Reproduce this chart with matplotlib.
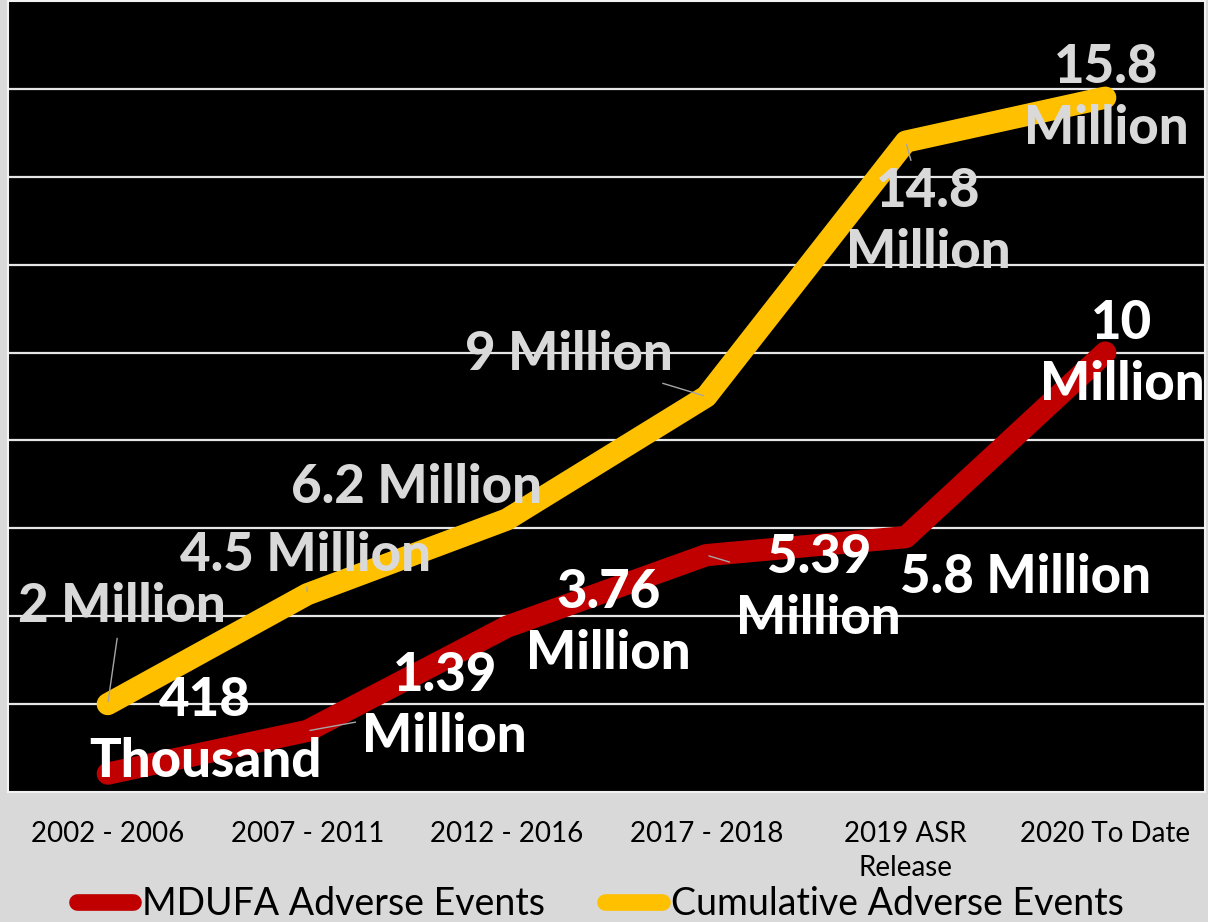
"""Adverse events line chart: MDUFA vs cumulative."""

import matplotlib
matplotlib.use('Agg')
import matplotlib.pyplot as plt
from matplotlib.lines import Line2D
import numpy as np

periods = ['2002 - 2006', '2007 - 2011', '2012 - 2016', '2017 - 2018',
           '2019 ASR\nRelease', '2020 To Date']

# values in millions
mdufa = [0.418, 1.39, 3.76, 5.39, 5.8, 10.0]
cumulative = [2.0, 4.5, 6.2, 9.0, 14.8, 15.8]

mdufa_labels = ['418\nThousand', '1.39\nMillion', '3.76\nMillion',
                '5.39\nMillion', '5.8 Million', '10\nMillion']
cumulative_labels = ['2 Million', '4.5 Million', '6.2 Million', '9 Million',
                     '14.8\nMillion', '15.8\nMillion']

# label offsets in points (dx, dy) and whether a leader line is drawn
mdufa_offsets = [(70, 31), (99, 18), (73, 3), (81, -24), (86, -29), (12, -1)]
mdufa_leaders = [False, True, False, True, False, False]
cumulative_offsets = [(10, 70), (-1, 28), (-65, 23), (-99, 30), (16, -58), (1, 0)]
cumulative_leaders = [True, True, False, True, True, False]

RED = '#c00000'
GOLD = '#ffc000'
BG = '#d9d9d9'
LABEL_GRAY = '#d9d9d9'

plt.rcParams['font.family'] = ['Lato', 'DejaVu Sans']

fig = plt.figure(figsize=(12.08, 9.22), dpi=100, facecolor=BG)
ax = fig.add_axes([8 / 1208, 130 / 922, 1197 / 1208, 791 / 922])
ax.set_facecolor('black')

x = np.arange(len(periods))
ax.plot(x, mdufa, color=RED, lw=16, solid_capstyle='round',
        solid_joinstyle='round', zorder=3)
ax.plot(x, cumulative, color=GOLD, lw=16, solid_capstyle='round',
        solid_joinstyle='round', zorder=3)

ax.set_xlim(-0.5, len(periods) - 0.5)
ax.set_ylim(0, 18)
ax.set_yticks(np.arange(2, 18, 2))
ax.yaxis.grid(True, color='#e6e6e6', lw=1.6)
ax.set_axisbelow(True)
ax.tick_params(axis='y', left=False, labelleft=False)
ax.set_xticks(x)
ax.set_xticklabels(periods, fontsize=20, color='black', linespacing=1.35)
ax.tick_params(axis='x', length=0, pad=21)
for s in ax.spines.values():
    s.set_color('#f2f2f2')
    s.set_linewidth(1.5)


def add_labels(values, labels, offsets, leaders, color):
    for i, (v, lab, off, lead) in enumerate(zip(values, labels, offsets, leaders)):
        arrow = None
        if lead:
            arrow = dict(arrowstyle='-', color='#a6a6a6', lw=1.0,
                         shrinkA=3, shrinkB=2)
        ax.annotate(lab, xy=(i, v), xytext=off, textcoords='offset points',
                    ha='center', va='center', fontsize=38, fontweight='black',
                    color=color, linespacing=1.3, arrowprops=arrow, zorder=5)


add_labels(cumulative, cumulative_labels, cumulative_offsets,
           cumulative_leaders, LABEL_GRAY)
add_labels(mdufa, mdufa_labels, mdufa_offsets, mdufa_leaders, 'white')

handles = [Line2D([], [], color=RED, lw=12, solid_capstyle='round'),
           Line2D([], [], color=GOLD, lw=12, solid_capstyle='round')]
fig.legend(handles, ['MDUFA Adverse Events', 'Cumulative Adverse Events'],
           loc='lower center', bbox_to_anchor=(0.497, 0.0), ncol=2,
           frameon=False, fontsize=27, handlelength=1.5, handletextpad=0.25,
           columnspacing=1.6, borderaxespad=0, borderpad=0)

fig.savefig('out.png', dpi=100, facecolor=BG)
